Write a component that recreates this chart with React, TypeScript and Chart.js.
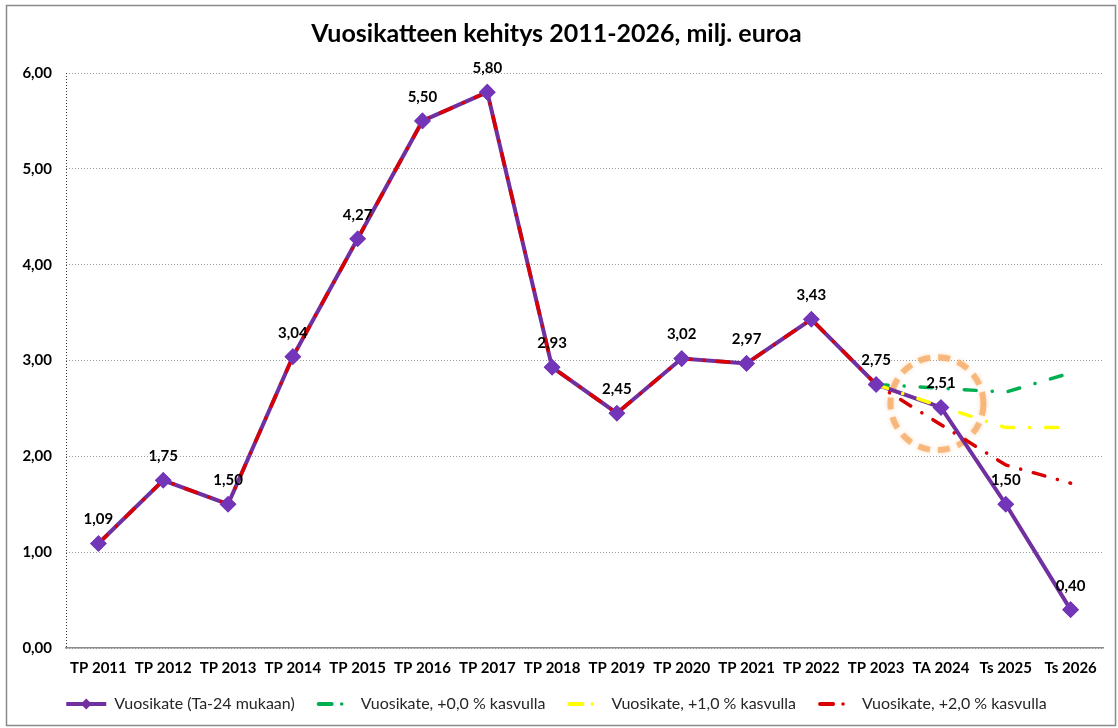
import React, { useEffect, useRef } from 'react';
import { Chart, registerables } from 'chart.js';

Chart.register(...registerables);

const categories = [
  'TP 2011', 'TP 2012', 'TP 2013', 'TP 2014', 'TP 2015', 'TP 2016', 'TP 2017', 'TP 2018',
  'TP 2019', 'TP 2020', 'TP 2021', 'TP 2022', 'TP 2023', 'TA 2024', 'Ts 2025', 'Ts 2026',
];
const vuosikate = [1.09, 1.75, 1.5, 3.04, 4.27, 5.5, 5.8, 2.93, 2.45, 3.02, 2.97, 3.43, 2.75, 2.51, 1.5, 0.4];
const kasvu0 = [null, null, null, null, null, null, null, null, null, null, null, null, 2.75, 2.71, 2.67, 2.87];
const kasvu1 = [null, null, null, null, null, null, null, null, null, null, null, null, 2.75, 2.52, 2.3, 2.3];
const kasvu2 = [1.09, 1.75, 1.5, 3.04, 4.27, 5.5, 5.8, 2.93, 2.45, 3.02, 2.97, 3.43, 2.75, 2.33, 1.91, 1.72];
const seriesNames = [
  'Vuosikate (Ta-24 mukaan)',
  'Vuosikate, +0,0 % kasvulla',
  'Vuosikate, +1,0 % kasvulla',
  'Vuosikate, +2,0 % kasvulla',
];
const seriesColors = ['#7030A0', '#00B050', '#FFFF00', '#D80000'];
const yMin = 0;
const yMax = 6;
const yStep = 1;
const titleText = 'Vuosikatteen kehitys 2011-2026, milj. euroa';
const highlightIndex = 13;
const highlightValue = 2.55;

const FONT = 'Lato, "Open Sans", "Liberation Sans", sans-serif';
const PURPLE = seriesColors[0];
const LEGEND_BOX = 40;
const fmt = (v: number) => v.toFixed(2).replace('.', ',');

const framePlugin = {
  id: 'frame',
  beforeDraw(chart: any) {
    const { ctx, width, height } = chart;
    ctx.save();
    ctx.fillStyle = '#ffffff';
    ctx.fillRect(0, 0, width, height);
    ctx.strokeStyle = '#8a8a8a';
    ctx.lineWidth = 1.5;
    ctx.strokeRect(6.5, 5.5, width - 9, height - 8);
    ctx.restore();
  },
  beforeDatasetsDraw(chart: any) {
    const { ctx, chartArea, scales } = chart;
    ctx.save();
    ctx.strokeStyle = '#333';
    ctx.lineWidth = 1;
    ctx.setLineDash([1, 2]);
    ctx.beginPath();
    ctx.moveTo(chartArea.left + 0.5, chartArea.top);
    ctx.lineTo(chartArea.left + 0.5, chartArea.bottom);
    ctx.stroke();
    const cx = scales.x.getPixelForValue(highlightIndex) - 4;
    const cy = scales.y.getPixelForValue(highlightValue);
    ctx.setLineDash([12, 8]);
    ctx.lineWidth = 6;
    ctx.strokeStyle = 'rgba(246,168,96,0.75)';
    ctx.shadowColor = 'rgba(246,168,96,0.6)';
    ctx.shadowBlur = 4;
    ctx.beginPath();
    ctx.arc(cx, cy, 46.5, 0, Math.PI * 2);
    ctx.stroke();
    ctx.restore();
  },
  afterDatasetsDraw(chart: any) {
    const { ctx } = chart;
    const meta = chart.getDatasetMeta(0);
    ctx.save();
    meta.data.forEach((p: any) => p.draw(ctx));
    ctx.font = `bold 15px ${FONT}`;
    ctx.fillStyle = '#000';
    ctx.textAlign = 'center';
    ctx.textBaseline = 'middle';
    meta.data.forEach((p: any, i: number) => {
      ctx.fillText(fmt(vuosikate[i]), p.x, p.y - 24);
    });
    ctx.restore();
  },
  afterDraw(chart: any) {
    const legend = chart.legend;
    if (!legend || !legend.legendHitBoxes || !legend.legendHitBoxes.length) return;
    const { ctx } = chart;
    ctx.save();
    legend.legendHitBoxes.forEach((hit: any, i: number) => {
      const x0 = hit.left;
      const cy = hit.top + hit.height / 2;
      const color = seriesColors[i];
      ctx.strokeStyle = color;
      ctx.fillStyle = color;
      ctx.setLineDash([]);
      if (i === 0) {
        ctx.lineWidth = 4;
        ctx.beginPath();
        ctx.moveTo(x0, cy);
        ctx.lineTo(x0 + LEGEND_BOX, cy);
        ctx.stroke();
        const cx = x0 + LEGEND_BOX / 2;
        ctx.beginPath();
        ctx.moveTo(cx, cy - 5.5);
        ctx.lineTo(cx + 5.5, cy);
        ctx.lineTo(cx, cy + 5.5);
        ctx.lineTo(cx - 5.5, cy);
        ctx.closePath();
        ctx.fill();
      } else {
        ctx.lineWidth = 4;
        ctx.lineCap = 'round';
        ctx.beginPath();
        ctx.moveTo(x0 + 6, cy);
        ctx.lineTo(x0 + 19, cy);
        ctx.stroke();
        ctx.beginPath();
        ctx.arc(x0 + 29, cy, 1.8, 0, Math.PI * 2);
        ctx.fill();
      }
    });
    ctx.restore();
  },
};

export default function App() {
  const ref = useRef<HTMLCanvasElement>(null);

  useEffect(() => {
    if (!ref.current) return;
    const chart = new Chart(ref.current, {
      type: 'line',
      data: {
        labels: categories,
        datasets: [
          {
            label: seriesNames[0],
            data: vuosikate,
            borderColor: PURPLE,
            backgroundColor: PURPLE,
            borderWidth: 4,
            pointStyle: 'rectRot',
            pointRadius: 5.5,
            pointBackgroundColor: '#7336B8',
            pointBorderColor: '#7336B8',
            tension: 0,
            order: 4,
          },
          {
            label: seriesNames[1],
            data: kasvu0,
            borderColor: seriesColors[1],
            backgroundColor: seriesColors[1],
            borderWidth: 3.5,
            borderDash: [12, 16, 0.1, 16],
            borderCapStyle: 'round',
            pointRadius: 0,
            order: 3,
          },
          {
            label: seriesNames[2],
            data: kasvu1,
            borderColor: seriesColors[2],
            backgroundColor: seriesColors[2],
            borderWidth: 3.5,
            borderDash: [12, 16, 0.1, 16],
            borderCapStyle: 'round',
            pointRadius: 0,
            order: 2,
          },
          {
            label: seriesNames[3],
            data: kasvu2,
            borderColor: seriesColors[3],
            backgroundColor: seriesColors[3],
            borderWidth: 3.5,
            borderDash: [12, 13, 0.1, 13],
            borderCapStyle: 'round',
            pointRadius: 0,
            order: 1,
          },
        ],
      },
      options: {
        animation: false,
        responsive: true,
        maintainAspectRatio: false,
        layout: { padding: { left: 10, right: 15, top: 0, bottom: 6 } },
        plugins: {
          title: {
            display: true,
            text: titleText,
            color: '#000',
            font: { family: FONT, size: 25, weight: 'bold' },
            padding: { top: 19, bottom: 24 },
          },
          legend: {
            position: 'bottom',
            labels: {
              usePointStyle: true,
              pointStyleWidth: LEGEND_BOX,
              boxHeight: 16,
              padding: 18,
              color: '#262626',
              font: { family: FONT, size: 16 },
              generateLabels: (c: any) =>
                (Chart.defaults.plugins.legend.labels as any)
                  .generateLabels(c)
                  .map((l: any) => ({
                    ...l,
                    pointStyle: 'line',
                    strokeStyle: 'rgba(0,0,0,0)',
                    fillStyle: 'rgba(0,0,0,0)',
                    lineWidth: 0,
                  })),
              sort: (a: any, b: any) => a.datasetIndex - b.datasetIndex,
            },
          },
          tooltip: { enabled: false },
        },
        scales: {
          x: {
            type: 'category',
            offset: true,
            grid: { display: false, drawTicks: false },
            border: { display: true, color: '#8c8c8c', width: 1.5 },
            ticks: {
              color: '#000',
              font: { family: FONT, size: 15, weight: 'bold' },
              padding: 11,
              maxRotation: 0,
              autoSkip: false,
            },
            afterFit: (s: any) => {
              s.height = 30;
            },
          },
          y: {
            min: yMin,
            max: yMax,
            grid: { color: '#9a9a9a', lineWidth: 1, drawTicks: false },
            border: { display: false, dash: [1, 2] },
            ticks: {
              stepSize: yStep,
              color: '#000',
              font: { family: FONT, size: 15, weight: 'bold' },
              padding: 14,
              callback: (v: any) => fmt(Number(v)),
            },
            afterFit: (s: any) => {
              s.width = 56;
            },
          },
        },
      },
      plugins: [framePlugin],
    });
    return () => chart.destroy();
  }, []);

  return (
    <div style={{ position: 'absolute', left: 0, top: 0, width: 1118, height: 728 }}>
      <canvas ref={ref} />
    </div>
  );
}
